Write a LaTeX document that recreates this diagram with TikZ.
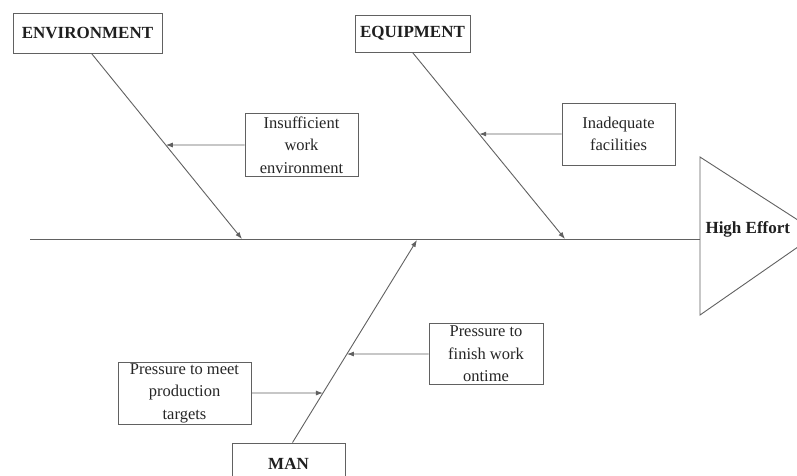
\documentclass[tikz,border=0pt]{standalone}
\usepackage{fontspec}
\setmainfont{Liberation Serif}
\usetikzlibrary{arrows.meta}
\begin{document}
\begin{tikzpicture}[x=1pt,y=-1pt,
  line/.style={draw=black!62,line width=0.9pt},
  arr/.style={line,-{Latex[length=7pt,width=5pt]}},
  cat/.style={line,fill=white,font=\fontsize{17}{20}\selectfont\bfseries,text=black!88,inner sep=0pt},
  cause/.style={line,fill=white,font=\fontsize{16.5}{22.5}\selectfont,text=black!85,align=center,inner sep=0pt}]
\clip (0,0) rectangle (797,475);
\fill[white] (0,0) rectangle (797,475);

% head of the fish
\draw[line] (700,157) -- (818,233) -- (700,315) -- cycle;
\node[font=\fontsize{17}{20}\selectfont\bfseries,text=black!88,anchor=west] (effect) at (702,229) {High Effort};

% spine
\coordinate (tail) at (30,239);
\coordinate (head) at (700,239);
\draw[line] (tail) -- (head);

% category boxes
\node[cat,minimum width=149,minimum height=40] (env) at (87.5,33) {ENVIRONMENT};
\node[cat,minimum width=115,minimum height=37] (equ) at (412.5,33.5) {EQUIPMENT};
\node[cat,minimum width=113,minimum height=42] (man) at (288.5,464) {MAN};

% cause boxes
\node[cause,minimum width=113,minimum height=63] (ins) at (301.5,145) {Insufficient\\work\\environment};
\node[cause,minimum width=113,minimum height=62] (inad) at (618.5,134) {Inadequate\\facilities};
\node[cause,minimum width=133,minimum height=62] (prod) at (184.5,393) {Pressure to meet\\production\\targets};
\node[cause,minimum width=114,minimum height=61] (fin) at (486,354) {Pressure to\\finish work\\ontime};

% ends of the bones on the spine
\coordinate (eEnv) at (242,239);
\coordinate (eEqu) at (565,239);
\coordinate (eMan) at (417,240);

% bones
\draw[arr] ([xshift=4]env.south) -- (eEnv);
\draw[arr] (equ.south) -- (eEqu);
\draw[arr] ([xshift=4]man.north) -- (eMan);

% cause arrows
\draw[arr] (ins.west) -- (intersection of {[xshift=4]env.south}--eEnv and ins.west--ins.east);
\draw[arr] (inad.west) -- (intersection of equ.south--eEqu and inad.west--inad.east);
\draw[arr] (prod.east) -- (intersection of {[xshift=4]man.north}--eMan and prod.west--prod.east);
\draw[arr] (fin.west) -- (intersection of {[xshift=4]man.north}--eMan and fin.west--fin.east);
\end{tikzpicture}
\end{document}
